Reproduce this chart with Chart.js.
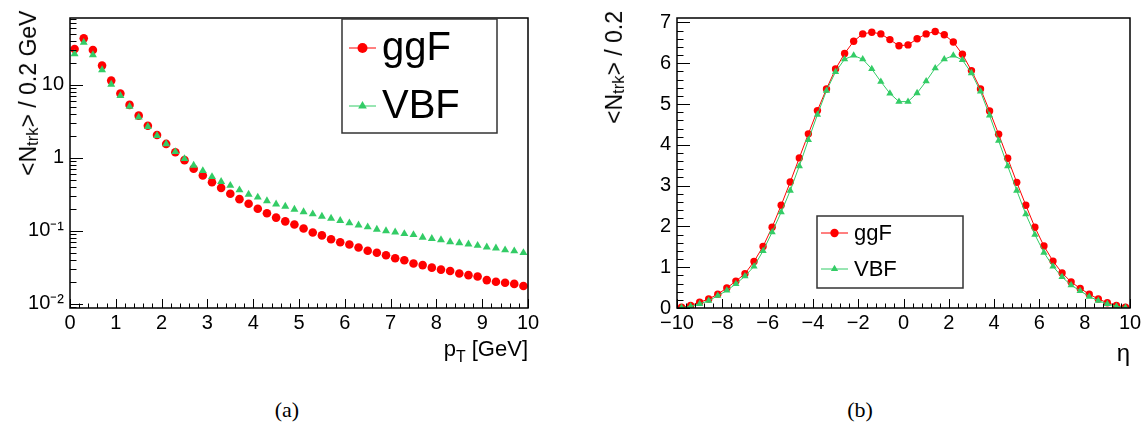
<!DOCTYPE html>
<html>
<head>
<meta charset="utf-8">
<script src="https://cdn.jsdelivr.net/npm/chart.js@4.4.0/dist/chart.umd.min.js"></script>
<style>
body{margin:0;background:#fff;}
#wrap{position:relative;width:1145px;height:428px;font-family:'Liberation Sans',Arial,sans-serif;color:#000;}
.panel{position:absolute;top:0;}
.ytitle{position:absolute;top:11px;height:300px;writing-mode:vertical-rl;transform:rotate(180deg);white-space:nowrap;text-align:end;font-size:23px;line-height:26px;}
.ytitle sub{font-size:0.72em;vertical-align:-0.3em;}
.xtitle{position:absolute;white-space:nowrap;line-height:1;}
.xtitle sub{font-size:0.72em;vertical-align:-0.35em;}
.caption{position:absolute;top:399px;width:100px;margin-left:-50px;text-align:center;font-family:'Liberation Serif','Times New Roman',serif;font-size:22px;line-height:1;}
</style>
</head>
<body>
<div id="wrap">
  <div class="panel" style="left:0;width:572px;height:380px"><canvas id="ptChart" width="572" height="380"></canvas></div>
  <div class="panel" style="left:572px;width:573px;height:380px"><canvas id="etaChart" width="573" height="380"></canvas></div>
  <div class="ytitle" style="left:15px">&lt;N<sub>trk</sub>&gt; / 0.2 GeV</div>
  <div class="ytitle" style="left:601px">&lt;N<sub>trk</sub>&gt; / 0.2</div>
  <div class="xtitle" style="right:617px;top:338px;font-size:22px">p<sub>T</sub> [GeV]</div>
  <div class="xtitle" style="right:15px;top:341px;font-size:24px">η</div>
  <div class="caption" style="left:287px">(a)</div>
  <div class="caption" style="left:860px">(b)</div>
</div>
<script>
// ---------- data ----------
const ptBins=[0.1,0.3,0.5,0.7,0.9,1.1,1.3,1.5,1.7,1.9,2.1,2.3,2.5,2.7,2.9,3.1,3.3,3.5,3.7,3.9,
  4.1,4.3,4.5,4.7,4.9,5.1,5.3,5.5,5.7,5.9,6.1,6.3,6.5,6.7,6.9,7.1,7.3,7.5,7.7,7.9,
  8.1,8.3,8.5,8.7,8.9,9.1,9.3,9.5,9.7,9.9];
const ggfPt=[30.8,43.2,29.9,18.3,11.4,7.59,5.30,3.78,2.75,2.05,
  1.55,1.19,0.93,0.71,0.574,0.462,0.388,0.323,0.272,0.235,
  0.201,0.174,0.152,0.135,0.122,0.108,0.095,0.0867,0.0767,0.0698,
  0.0650,0.0592,0.0534,0.0502,0.0463,0.0422,0.0397,0.0358,0.0340,0.0314,
  0.0295,0.0283,0.0261,0.0248,0.0238,0.0212,0.0201,0.0195,0.0188,0.0176];
const vbfPt=[26.4,37.8,25.6,16.0,10.1,7.06,5.03,3.59,2.67,2.01,
  1.55,1.21,0.97,0.789,0.664,0.551,0.473,0.418,0.362,0.316,
  0.288,0.257,0.232,0.216,0.197,0.182,0.170,0.158,0.148,0.138,
  0.128,0.120,0.113,0.105,0.100,0.096,0.0912,0.0885,0.0816,0.0782,
  0.0751,0.0706,0.0685,0.0658,0.0630,0.0600,0.0580,0.0547,0.0530,0.0502];

const etaBins=[-9.8,-9.4,-9.0,-8.6,-8.2,-7.8,-7.4,-7.0,-6.6,-6.2,-5.8,-5.4,-5.0,-4.6,-4.2,-3.8,-3.4,-3.0,-2.6,-2.2,
  -1.8,-1.4,-1.0,-0.6,-0.2,0.2,0.6,1.0,1.4,1.8,2.2,2.6,3.0,3.4,3.8,4.2,4.6,5.0,5.4,5.8,
  6.2,6.6,7.0,7.4,7.8,8.2,8.6,9.0,9.4,9.8];
const ggfEta=[0.02,0.06,0.14,0.22,0.34,0.49,0.66,0.84,1.14,1.51,1.98,2.52,
  3.09,3.68,4.27,4.84,5.37,5.86,6.24,6.54,6.72,6.76,6.72,6.58,6.43,
  6.45,6.60,6.72,6.78,6.70,6.52,6.22,5.82,5.37,4.83,4.26,3.67,3.08,
  2.52,1.98,1.52,1.15,0.86,0.64,0.48,0.34,0.22,0.13,0.06,0.02];
const vbfEta=[0.01,0.04,0.10,0.18,0.30,0.43,0.59,0.78,1.02,1.40,1.86,2.35,
  2.88,3.48,4.12,4.74,5.33,5.79,6.10,6.19,6.10,5.86,5.55,5.26,5.06,
  5.06,5.27,5.56,5.88,6.10,6.19,6.08,5.76,5.31,4.72,4.10,3.48,2.88,
  2.30,1.80,1.36,1.02,0.76,0.56,0.42,0.28,0.18,0.10,0.04,0.01];

const seriesNames=['ggF','VBF'];
const logLabels={'-2':'10⁻²','-1':'10⁻¹','0':'1','1':'10'};

const RED='#ff0000', GREEN='#33cc66';
const FONT="'Liberation Sans', Arial, sans-serif";

// ---------- ROOT-like frame with inward ticks ----------
const rootAxes={
  id:'rootAxes',
  afterDatasetsDraw(chart,args,o){
    const {ctx,chartArea:a,scales:{x,y}}=chart;
    ctx.save();
    ctx.strokeStyle='#000';
    ctx.lineWidth=1;
    ctx.beginPath();
    o.xTicks.forEach(([v,len])=>{
      const px=Math.round(x.getPixelForValue(v))+0.5;
      ctx.moveTo(px,a.bottom);ctx.lineTo(px,a.bottom-len);
    });
    o.yTicks.forEach(([v,len])=>{
      const py=Math.round(y.getPixelForValue(v))+0.5;
      ctx.moveTo(a.left,py);ctx.lineTo(a.left+len,py);
    });
    ctx.stroke();
    ctx.lineWidth=1.5;
    ctx.strokeRect(a.left,a.top,a.right-a.left,a.bottom-a.top);
    ctx.restore();
  }
};

// ---------- legend box drawn inside the pad ----------
const rootLegend={
  id:'rootLegend',
  afterDraw(chart,args,o){
    const ctx=chart.ctx;
    const [x0,y0,x1,y1]=o.box;
    ctx.save();
    ctx.fillStyle='#fff';
    ctx.fillRect(x0,y0,x1-x0,y1-y0);
    ctx.strokeStyle='#333';
    ctx.lineWidth=1.5;
    ctx.strokeRect(x0,y0,x1-x0,y1-y0);
    o.rows.forEach(r=>{
      ctx.strokeStyle=r.color;ctx.lineWidth=1;
      ctx.beginPath();ctx.moveTo(o.lineFrom,r.y);ctx.lineTo(o.lineTo,r.y);ctx.stroke();
      ctx.fillStyle=r.color;
      Chart.helpers.drawPoint(ctx,{pointStyle:r.style,radius:o.radius,borderWidth:0},(o.lineFrom+o.lineTo)/2,r.y);
      ctx.fillStyle='#000';
      ctx.font=o.size+'px '+FONT;
      ctx.textBaseline='alphabetic';
      ctx.fillText(r.label,o.textX,r.y+o.size*0.31);
    });
    ctx.restore();
  }
};

function pts(xs,ys){return xs.map((x,i)=>({x:x,y:ys[i]}));}

// tick lists (axis decoration only)
function linTicks(min,max,major,minor,lMaj,lMin){
  const t=[];
  for(let v=min;v<=max+1e-9;v+=minor){
    const isMaj=Math.abs(v/major-Math.round(v/major))<1e-6;
    t.push([v,isMaj?lMaj:lMin]);
  }
  return t;
}
function logTicks(min,max,lMaj,lMin){
  const t=[];
  for(let d=-3;d<=2;d++){
    for(let m=1;m<=9;m++){
      const v=m*Math.pow(10,d);
      if(v>=min&&v<=max) t.push([v,m===1?lMaj:lMin]);
    }
  }
  return t;
}

const tickFont={family:FONT,size:20};

// ---------- (a) pT ----------
const PT_MIN=0.0088, PT_MAX=82;
new Chart(document.getElementById('ptChart'),{
  type:'scatter',
  data:{datasets:[
    {label:seriesNames[1],data:pts(ptBins,vbfPt),order:0,pointStyle:'triangle',pointRadius:4.6,
     backgroundColor:GREEN,borderColor:GREEN,pointBorderWidth:0,showLine:false},
    {label:seriesNames[0],data:pts(ptBins,ggfPt),order:1,pointStyle:'circle',pointRadius:4.3,
     backgroundColor:RED,borderColor:RED,pointBorderWidth:0,showLine:false}
  ]},
  options:{
    responsive:false,animation:false,
    layout:{padding:{top:11,right:44,left:0,bottom:0}},
    plugins:{
      legend:{display:false},tooltip:{enabled:false},
      rootAxes:{xTicks:linTicks(0,10,1,0.2,9,4.5),yTicks:logTicks(PT_MIN,PT_MAX,13,6.5)},
      rootLegend:{box:[342,19,497,133],lineFrom:349,lineTo:376,textX:382,radius:5,size:40,
        rows:[{label:seriesNames[0],y:48,color:RED,style:'circle'},
              {label:seriesNames[1],y:106,color:GREEN,style:'triangle'}]}
    },
    scales:{
      x:{type:'linear',min:0,max:10,
        grid:{display:false,drawTicks:false},border:{display:false},
        ticks:{stepSize:1,padding:3,font:tickFont,color:'#000',maxRotation:0,autoSkip:false},
        afterFit(s){s.height=72;}},
      y:{type:'logarithmic',min:PT_MIN,max:PT_MAX,
        grid:{display:false,drawTicks:false},border:{display:false},
        ticks:{padding:6,font:tickFont,color:'#000',autoSkip:false,
          callback:v=>{const l=Math.log10(v);const r=Math.round(l);
            return Math.abs(l-r)<1e-6&&logLabels[r]!==undefined?logLabels[r]:'';}},
        afterFit(s){s.width=70;}}
    }
  },
  plugins:[rootAxes,rootLegend]
});

// ---------- (b) eta ----------
new Chart(document.getElementById('etaChart'),{
  type:'scatter',
  data:{datasets:[
    {label:seriesNames[1],data:pts(etaBins,vbfEta),order:0,pointStyle:'triangle',pointRadius:4.2,
     backgroundColor:GREEN,borderColor:GREEN,borderWidth:1,pointBorderWidth:0,showLine:true,tension:0},
    {label:seriesNames[0],data:pts(etaBins,ggfEta),order:1,pointStyle:'circle',pointRadius:3.7,
     backgroundColor:RED,borderColor:RED,borderWidth:1,pointBorderWidth:0,showLine:true,tension:0}
  ]},
  options:{
    responsive:false,animation:false,
    layout:{padding:{top:11,right:15,left:0,bottom:0}},
    plugins:{
      legend:{display:false},tooltip:{enabled:false},
      rootAxes:{xTicks:linTicks(-10,10,2,0.4,9,4.5),yTicks:linTicks(0,7,1,0.2,13,6.5)},
      rootLegend:{box:[245,216,391,288],lineFrom:249,lineTo:276,textX:282,radius:4.2,size:22,
        rows:[{label:seriesNames[0],y:233,color:RED,style:'circle'},
              {label:seriesNames[1],y:269,color:GREEN,style:'triangle'}]}
    },
    scales:{
      x:{type:'linear',min:-10,max:10,
        grid:{display:false,drawTicks:false},border:{display:false},
        ticks:{stepSize:2,padding:3,font:tickFont,color:'#000',maxRotation:0,autoSkip:false,
          callback:v=>String(v).replace('-','−')},
        afterFit(s){s.height=72;}},
      y:{type:'linear',min:0,max:7.11,
        grid:{display:false,drawTicks:false},border:{display:false},
        ticks:{stepSize:1,includeBounds:false,padding:6,font:tickFont,color:'#000',autoSkip:false},
        afterFit(s){s.width=105;}}
    }
  },
  plugins:[rootAxes,rootLegend]
});
</script>
</body>
</html>
